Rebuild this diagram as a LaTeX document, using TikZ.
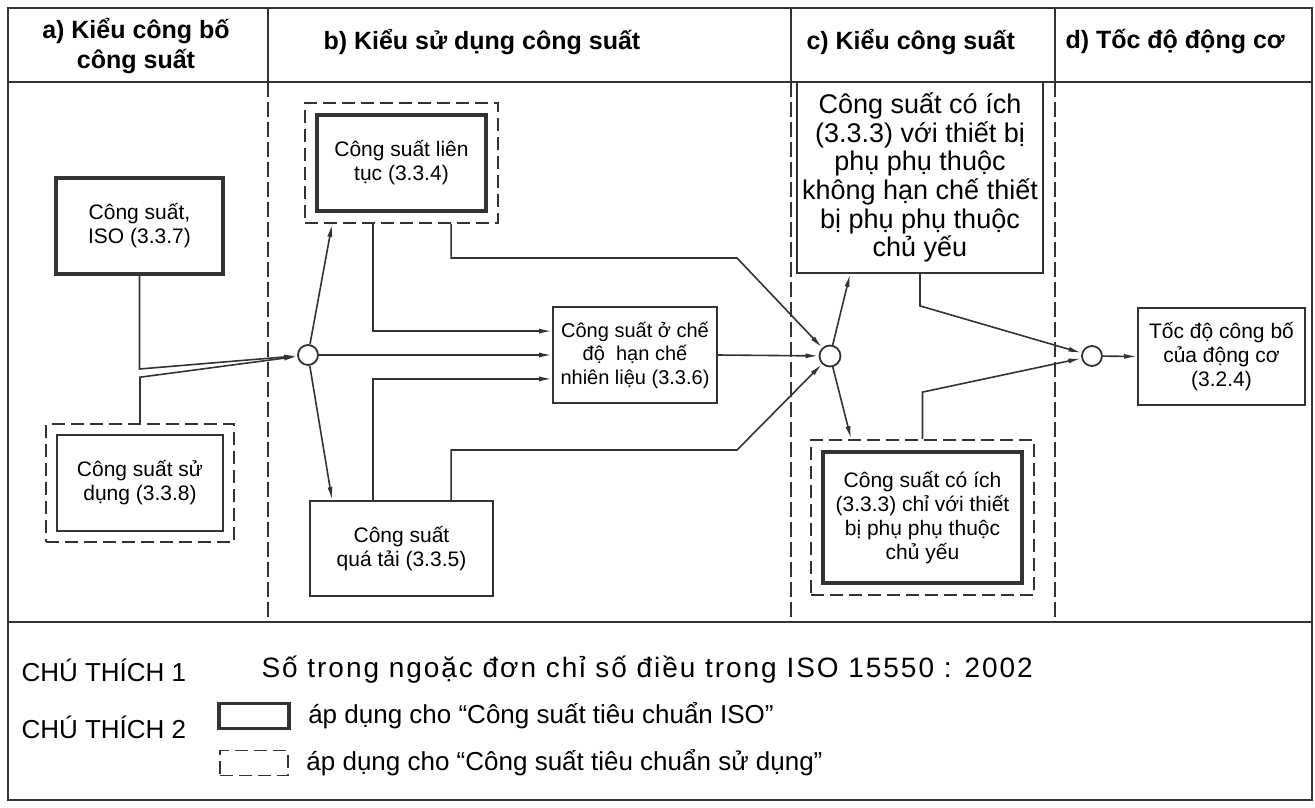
\documentclass[tikz,border=0pt]{standalone}
\usepackage{fontspec}
\setmainfont{Liberation Sans}
\newfontfamily\gianchu[LetterSpace=7]{Liberation Sans}
\usetikzlibrary{arrows.meta,calc,fit,positioning}

\begin{document}
\begin{tikzpicture}[x=1pt,y=-1pt,
	khung/.style={line width=2pt,draw=black!80},
	chia/.style={line width=1.8pt,draw=black!80,dash pattern=on 15pt off 5pt},
	hop/.style={draw=black!80,line width=1.8pt,align=center,inner sep=2pt,font=\fontsize{21}{24}\selectfont},
	hopiso/.style={hop,line width=4pt},
	hopsd/.style={draw=black!80,line width=1.8pt,dash pattern=on 13pt off 6pt,inner sep=10pt},
	nut/.style={circle,draw=black!80,line width=1.8pt,fill=white,minimum size=20pt,inner sep=0pt},
	noi/.style={line width=1.6pt,draw=black!80,-{Latex[length=13pt,width=5pt]}},
	tieude/.style={font=\fontsize{25}{30}\selectfont\bfseries,align=center},
	chu/.style={font=\fontsize{26}{30}\selectfont,anchor=west}]
	\useasboundingbox (0,0) rectangle (1315,808);
	% khung va cot
	\draw[khung] (8,8) rectangle (1312,800);
	\draw[khung] (8,82) -- (1312,82);
	\draw[khung] (8,622) -- (1312,622);
	\foreach \x in {268,791,1055} {
		\draw[khung] (\x,8) -- (\x,82);
		\draw[chia] (\x,82) -- (\x,622);
	}
	% tieu de
	\node[tieude] (ha) at (136,46) {a) Kiểu công bố\\công suất};
	\node[tieude,anchor=west] (hb) at (320,42) {b) Kiểu sử dụng công suất};
	\node[tieude,anchor=west] (hc) at (803,42) {c) Kiểu công suất};
	\node[tieude,anchor=west] (hd) at (1062,42) {d) Tốc độ động cơ};

	% cot a
	\node[hopiso,minimum width=167pt,minimum height=96pt] (iso) at (139.5,226) {Công suất,\\ISO (3.3.7)};
	\node[hop,minimum width=166pt,minimum height=96pt] (sd) at (140,483) {Công suất sử\\dụng (3.3.8)};
	\node[hopsd,fit=(sd)] (sdd) {};
	\node[nut] (j1) at (308,355) {};

	% cot b
	\node[hopiso,minimum width=169pt,minimum height=96pt] (lt) at (401.5,163) {Công suất liên\\tục (3.3.4)};
	\node[hopsd,fit=(lt)] (ltd) {};
	\node[hop,minimum width=183pt,minimum height=95pt] (qt) at (401.5,548.5) {Công suất\\quá tải (3.3.5)};
	\node[hop,minimum width=164pt,minimum height=96pt,font=\fontsize{20}{23.5}\selectfont] (nl) at (635,355) {Công suất ở chế\\độ\ \ hạn chế\\nhiên liệu (3.3.6)};
	\node[nut,minimum size=21pt] (j2) at (830,356) {};
	\coordinate (k1) at (737,258);
	\coordinate (k2) at (737,450);

	% cot c
	\node[hop,minimum width=246pt,minimum height=191pt,font=\fontsize{27}{28.7}\selectfont] (hi) at (920,177.5) {Công suất có ích\\(3.3.3) với thiết bị\\phụ phụ thuộc\\không hạn chế thiết\\bị phụ phụ thuộc\\chủ yếu};
	\node[hopiso,minimum width=199pt,minimum height=131pt] (ci) at (922.5,517.5) {Công suất có ích\\(3.3.3) chỉ với thiết\\bị phụ phụ thuộc\\chủ yếu};
	\node[hopsd,fit=(ci)] (cid) {};
	\node[nut] (j3) at (1092,356) {};

	% cot d
	\node[hop,minimum width=167pt,minimum height=97pt] (td) at (1221.5,356.5) {Tốc độ công bố\\của động cơ\\(3.2.4)};

	% duong noi
	\draw[noi] (iso.south) -- ++(0,93) -- (j1);
	\draw[noi] (sdd.north) -- ++(0,-46) -- (j1);
	\draw[noi] (j1) -- ($(ltd.south west)+(28,0)$);
	\draw[noi] (j1) -- ($(qt.north west)+(23,0)$);
	\draw[noi] (j1) -- (nl.west);
	\draw[noi] ($(ltd.south west)+(69,0)$) |- ($(nl.north west)+(0,25)$);
	\draw[noi] ($(qt.north west)+(64,0)$) |- ($(nl.south west)+(0,-25)$);
	\draw[noi] ($(ltd.south west)+(147,0)$) |- (k1) -- (j2);
	\draw[noi] ($(qt.north west)+(142,0)$) |- (k2) -- (j2);
	\draw[noi] (nl.east) -- (j2);
	\draw[noi] (j2) -- ($(hi.south west)+(54,0)$);
	\draw[noi] (j2) -- ($(cid.north west)+(41,0)$);
	\draw[noi] (hi.south) -- ++(0,32) -- (j3);
	\draw[noi] (cid.north) -- ++(0,-47) -- (j3);
	\draw[noi] (j3) -- (td.west);

	% chu thich
	\node[chu] (gc1) at (18,670) {CHÚ THÍCH 1};
	\node[chu,font=\fontsize{28}{30}\gianchu] (gc1t) at (258,670) {Số trong ngoặc đơn chỉ số điều trong ISO 15550 : 2002};
	\node[chu] (gc2) at (18,727) {CHÚ THÍCH 2};
	\node[draw=black!80,line width=3.5pt,minimum width=70pt,minimum height=25pt] (mk1) at (254,716) {};
	\node[draw=black!80,line width=1.8pt,dash pattern=on 13pt off 6pt,minimum width=68pt,minimum height=25pt] (mk2) at (254,763) {};
	\node[chu,right=14pt of mk1] (gt1) {áp dụng cho “Công suất tiêu chuẩn ISO”};
	\node[chu,right=14pt of mk2] (gt2) {áp dụng cho “Công suất tiêu chuẩn sử dụng”};
\end{tikzpicture}
\end{document}
